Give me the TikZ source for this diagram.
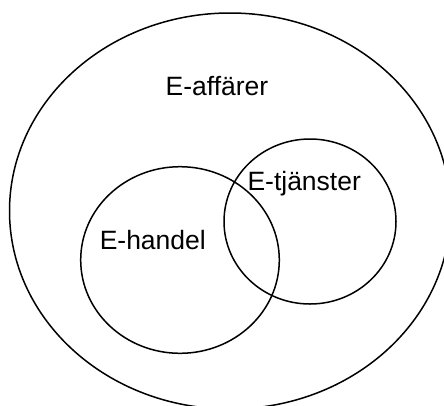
\documentclass[tikz,border=0pt]{standalone}
\usepackage{fontspec}
\setmainfont{Liberation Sans}
\begin{document}
\begin{tikzpicture}[x=1pt,y=-1pt,
  ring/.style={draw=black,line width=1.5pt},
  lbl/.style={anchor=base,inner sep=0pt,font=\fontsize{26.5}{30}\selectfont}]
\useasboundingbox (0,0) rectangle (444,405);
\clip (0,0) rectangle (444,405);
\draw[ring] (230,211) ellipse [x radius=220.5, y radius=198];
\draw[ring] (180,260) ellipse [x radius=99.3, y radius=93.3];
\draw[ring] (310,221.5) ellipse [x radius=86, y radius=82.5];
\node[lbl] (affarer) at (217,95) {E-affärer};
\node[lbl] (handel) at (152.8,249) {E-handel};
\node[lbl] (tjanster) at (304.2,190) {E-tjänster};
\end{tikzpicture}
\end{document}
